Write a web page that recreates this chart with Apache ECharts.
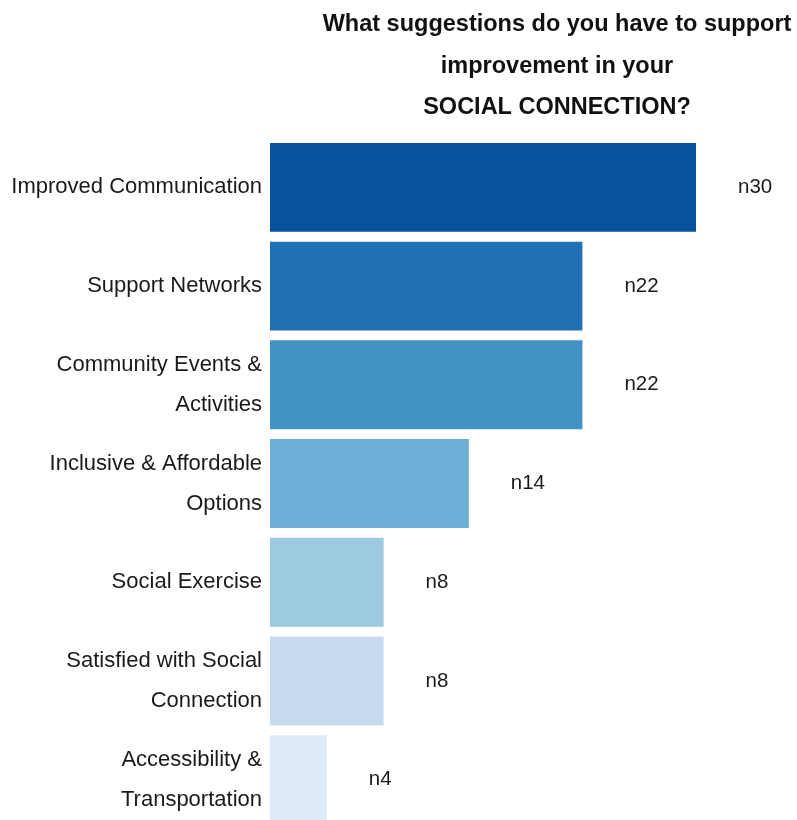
<!DOCTYPE html>
<html>
<head>
<meta charset="utf-8">
<script src="https://cdn.jsdelivr.net/npm/echarts@6/dist/echarts.min.js"></script>
<style>
html,body{margin:0;padding:0;background:#fff;overflow:hidden;}
#chart{width:797px;height:830px;}
</style>
</head>
<body>
<div id="chart"></div>
<script>
const titleText = 'What suggestions do you have to support\nimprovement in your\nSOCIAL CONNECTION?';
const categories = [
  'Improved Communication',
  'Support Networks',
  'Community Events &\nActivities',
  'Inclusive & Affordable\nOptions',
  'Social Exercise',
  'Satisfied with Social\nConnection',
  'Accessibility &\nTransportation'
];
const values = [30, 22, 22, 14, 8, 8, 4];
const labels = ['n30', 'n22', 'n22', 'n14', 'n8', 'n8', 'n4'];
const colors = ['#08519c', '#2171b5', '#4292c6', '#6baed6', '#9ecae1', '#c6dbef', '#deebf7'];

const chart = echarts.init(document.getElementById('chart'));
const font = '"Liberation Sans", Arial, Helvetica, sans-serif';
chart.setOption({
  animation: false,
  backgroundColor: '#ffffff',
  title: {
    text: titleText,
    left: 552,
    top: -1,
    textAlign: 'center',
    textStyle: {
      fontFamily: font,
      fontSize: 23.5,
      fontWeight: 'bold',
      color: '#111',
      lineHeight: 41.5
    }
  },
  grid: {
    left: 270,
    top: 138,
    width: 426,
    height: 691,
    containLabel: false
  },
  xAxis: {
    type: 'value',
    min: 0,
    max: 30,
    show: false
  },
  yAxis: {
    type: 'category',
    inverse: true,
    data: categories,
    axisLine: { show: false },
    axisTick: { show: false },
    splitLine: { show: false },
    axisLabel: {
      margin: 8,
      fontFamily: font,
      fontSize: 22,
      lineHeight: 40,
      color: '#1a1a1a',
      align: 'right'
    }
  },
  series: [{
    type: 'bar',
    data: values.map((v, i) => ({ value: v, itemStyle: { color: colors[i] } })),
    barCategoryGap: '10%',
    label: {
      show: true,
      position: 'right',
      distance: 42,
      fontFamily: font,
      fontSize: 20.5,
      color: '#1a1a1a',
      formatter: p => labels[p.dataIndex]
    }
  }]
});
</script>
</body>
</html>
